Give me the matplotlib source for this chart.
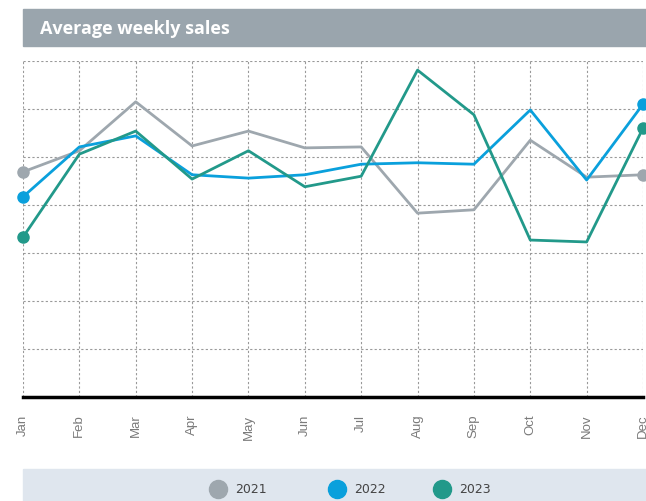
import matplotlib.pyplot as plt
from matplotlib.patches import Rectangle
from matplotlib.lines import Line2D

months = ['Jan', 'Feb', 'Mar', 'Apr', 'May', 'Jun', 'Jul', 'Aug', 'Sep', 'Oct', 'Nov', 'Dec']
sales_2021 = [4.69, 5.13, 6.15, 5.23, 5.54, 5.19, 5.21, 3.83, 3.90, 5.35, 4.58, 4.63]
sales_2022 = [4.17, 5.21, 5.44, 4.63, 4.56, 4.63, 4.85, 4.88, 4.85, 5.98, 4.52, 6.10]
sales_2023 = [3.33, 5.06, 5.54, 4.54, 5.13, 4.38, 4.60, 6.81, 5.88, 3.27, 3.23, 5.60]
years = ['2021', '2022', '2023']
colours = ['#9ea7ae', '#0aa0dc', '#22998a']

plt.rcParams['font.family'] = ['Open Sans', 'DejaVu Sans']

W, H = 646, 502
fig = plt.figure(figsize=(W / 100, H / 100), dpi=100)

# title band
fig.patches.append(Rectangle((23 / W, 1 - 47 / H), 1, 37 / H,
                             transform=fig.transFigure, color='#9aa5ad', zorder=0))
fig.text(40 / W, 1 - 29 / H, 'Average weekly sales', color='white',
         fontsize=13, fontweight='bold', va='center', ha='left')

# legend band
fig.patches.append(Rectangle((23 / W, 0), 1, 32 / H,
                             transform=fig.transFigure, color='#dfe6ee', zorder=0))

ax = fig.add_axes([23 / W, 104 / H, 620 / W, 336 / H])
x = list(range(len(months)))
for vals, col in zip([sales_2021, sales_2022, sales_2023], colours):
    ax.plot(x, vals, color=col, lw=2, clip_on=False, zorder=3)
    ax.plot([x[0], x[-1]], [vals[0], vals[-1]], 'o', color=col, ms=8,
            clip_on=False, zorder=4)

ax.set_xlim(0, 11)
ax.set_ylim(0, 7)
ax.set_xticks(x)
ax.set_xticklabels(months, rotation=90, fontsize=9.5, color='#7a7a7a',
                   family=['Liberation Sans', 'DejaVu Sans'])
ax.set_yticks(range(0, 8))
ax.set_yticklabels([])
ax.tick_params(length=0, pad=12)
ax.grid(True, color='#999999', linestyle=(0, (2, 2)), lw=0.8)
for s in ['top', 'right', 'left']:
    ax.spines[s].set_visible(False)
ax.spines['bottom'].set_color('black')
ax.spines['bottom'].set_linewidth(2.5)
ax.spines['bottom'].set_zorder(5)

# legend drawn by hand in figure pixels
legend_x = [218, 337, 442]
for lx, year, col in zip(legend_x, years, colours):
    fig.add_artist(Line2D([lx / W], [12 / H], marker='o', ls='none', color=col,
                          ms=13, transform=fig.transFigure))
    fig.text((lx + 17) / W, 12 / H, year, fontsize=9, color='#444444',
             va='center', ha='left', family=['Liberation Sans Narrow', 'DejaVu Sans'])

fig.savefig('out.png', dpi=100)
